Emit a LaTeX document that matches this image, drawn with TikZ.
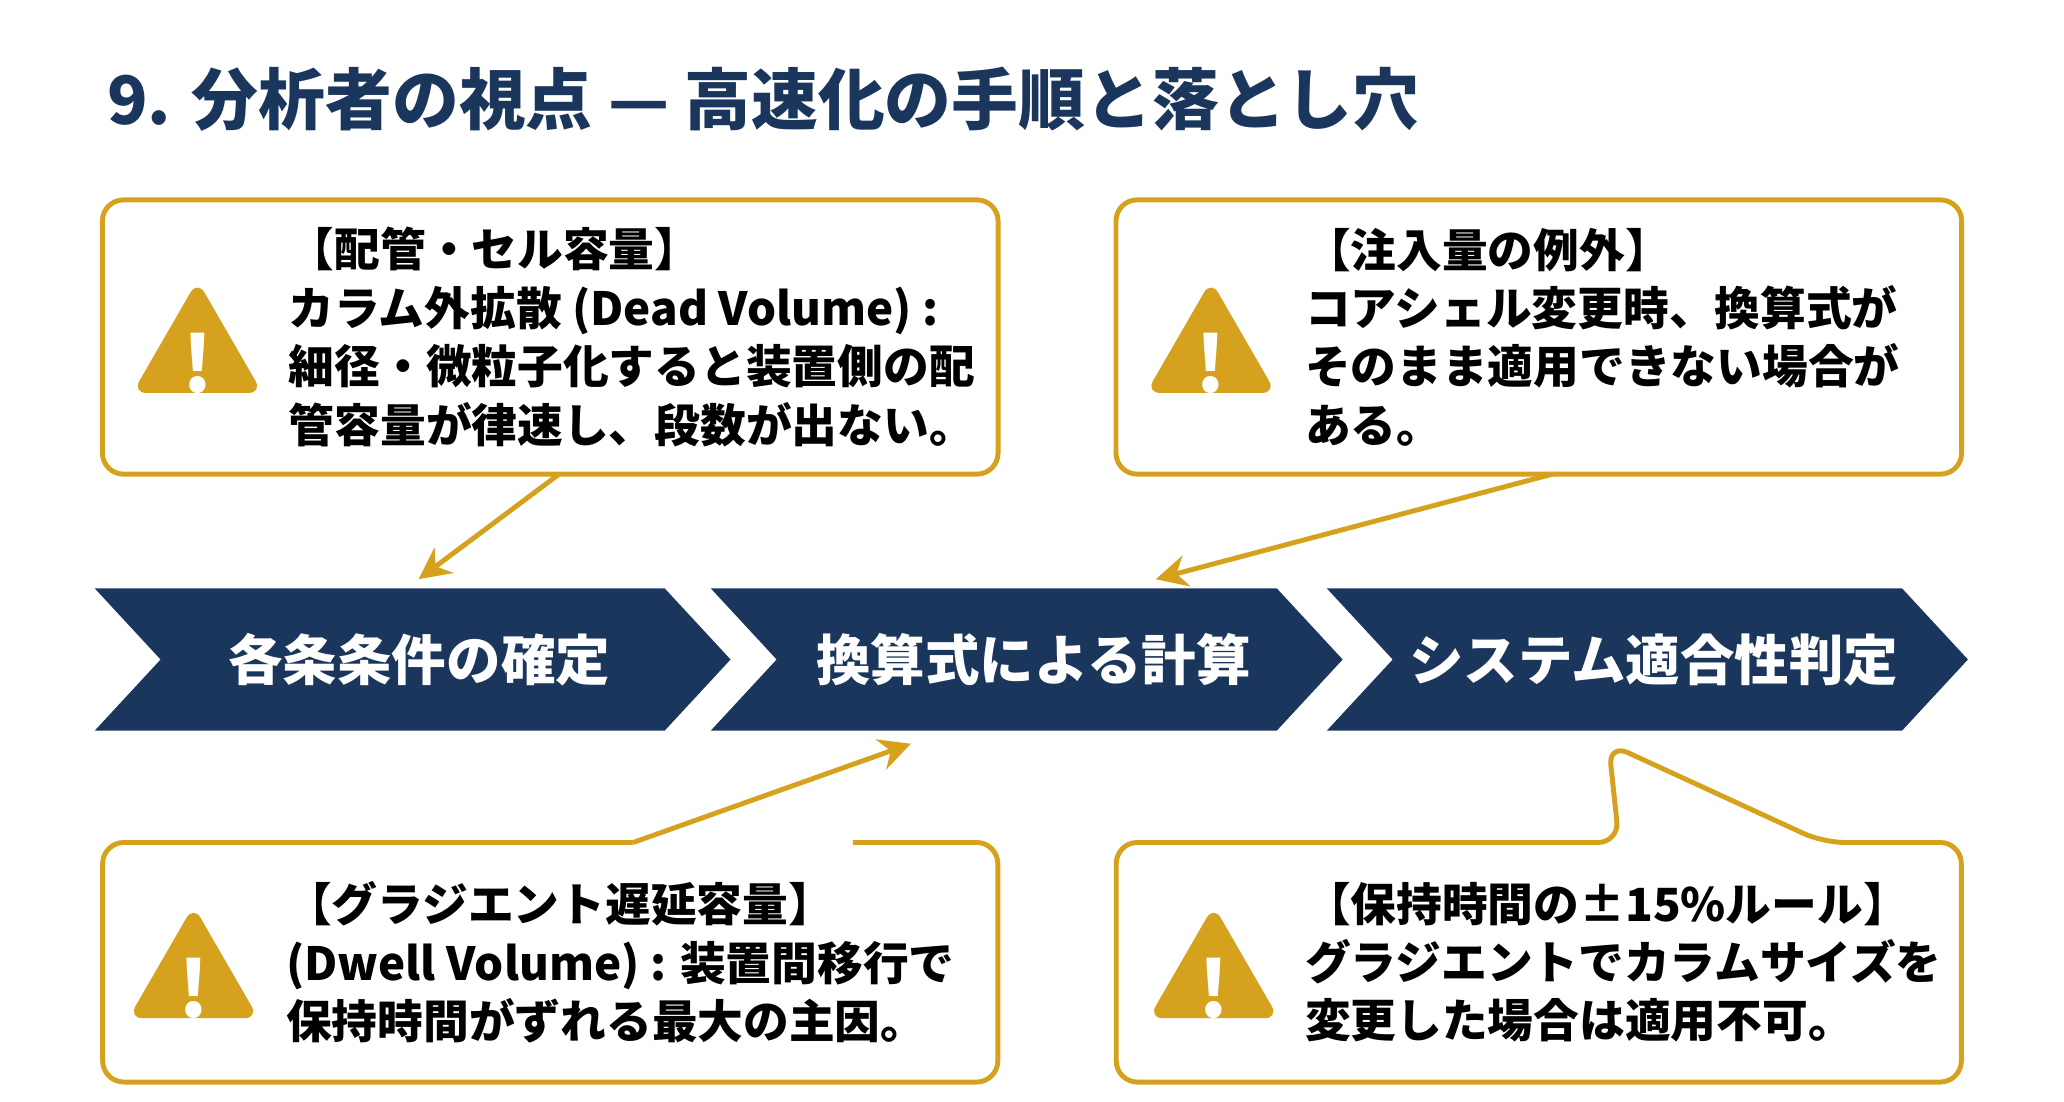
\documentclass[tikz,border=0pt]{standalone}
\usepackage{fontspec}
\setmainfont{Noto Sans CJK JP}
\usetikzlibrary{shapes.geometric, arrows.meta, positioning}
\definecolor{navy}{HTML}{1B365D}
\definecolor{gold}{HTML}{D6A21E}

\tikzset{
    note/.style={draw=gold, line width=1.4pt, rounded corners=6pt, fill=white},
    notetext/.style={anchor=west, align=left, text=black, font=\bfseries\fontsize{13}{16.6}\selectfont},
    warn/.style={regular polygon, regular polygon sides=3, fill=gold, rounded corners=4pt,
        minimum size=1.5cm, inner sep=0pt},
    chevron/.style={fill=navy},
    chevrontext/.style={text=white, font=\bfseries\fontsize{15.5}{18}\selectfont},
    hint/.style={draw=gold, line width=1.4pt, -{Stealth[length=9pt,width=9pt]}}
}

\begin{document}
\begin{tikzpicture}[x=0.01316cm, y=-0.01316cm]

            % Frame
            \useasboundingbox (0,0) rectangle (1568,837);

            % Title
            \node[anchor=west, text=navy, font=\bfseries\fontsize{19}{22}\selectfont] (title) at (72,75)
                {9. 分析者の視点 — 高速化の手順と落とし穴};

            % Process steps
            \foreach \l/\r/\name/\txt in {72/555/s1/各条条件の確定, 540/1020/s2/換算式による計算, 1008/1495/s3/システム適合性判定} {
                    \fill[chevron] (\l,447) -- (\r-50,447) -- (\r,501) -- (\r-50,555) -- (\l,555) -- (\l+50,501) -- cycle;
                    \node[chevrontext] (\name) at ({(\l+\r)/2+5},501) {\txt};
                }

            % Notes
            \node[note, minimum width=8.95cm, minimum height=2.74cm] (tl) at (418,256) {};
            \node[note, minimum width=8.45cm, minimum height=2.74cm] (tr) at (1169,256) {};
            % bottom left note, open where its hint leaves
            \draw[note, fill=none] (648,640) -- (758,640) -- (758,822) -- (78,822) -- (78,640) -- (481,640);
            \node (bl) at (418,731) {};
            % bottom right note with its tail
            \draw[note, rounded corners=6pt]
                (1230,640) -- (1222,565) -- (1385,640) -- (1490,640) -- (1490,822) -- (848,822) -- (848,640) -- cycle;
            \node (br) at (1169,731) {};

            % Warning signs
            \foreach \x/\y/\name in {150/270/w1, 920/270/w2, 147/745/w3, 922/745/w4} {
                    \node[warn] (\name) at (\x,\y) {};
                    \node[text=white, font=\bfseries\fontsize{22}{22}\selectfont] at (\x,\y+6) {!};
                }

            % Note texts
            \node[notetext] (tltxt) at (210,256) {【配管・セル容量】\\カラム外拡散 (Dead Volume) :\\細径・微粒子化すると装置側の配\\管容量が律速し、段数が出ない。};
            \node[notetext] (trtxt) at (982,256) {【注入量の例外】\\コアシェル変更時、換算式が\\そのまま適用できない場合が\\ある。};
            \node[notetext] (bltxt) at (208,731) {【グラジエント遅延容量】\\(Dwell Volume) : 装置間移行で\\保持時間がずれる最大の主因。};
            \node[notetext] (brtxt) at (982,731) {【保持時間の±15\%ルール】\\グラジエントでカラムサイズを\\変更した場合は適用不可。};

            % Hints
            \coordinate (a1) at (425,360);
            \coordinate (a1e) at (318,440);
            \coordinate (a2) at (1180,360);
            \coordinate (a2e) at (878,440);
            \coordinate (a3) at (481,640);
            \coordinate (a3e) at (692,565);
            \draw[hint] (a1) -- (a1e);
            \draw[hint] (a2) -- (a2e);
            \draw[hint] (a3) -- (a3e);
        \end{tikzpicture}
\end{document}
